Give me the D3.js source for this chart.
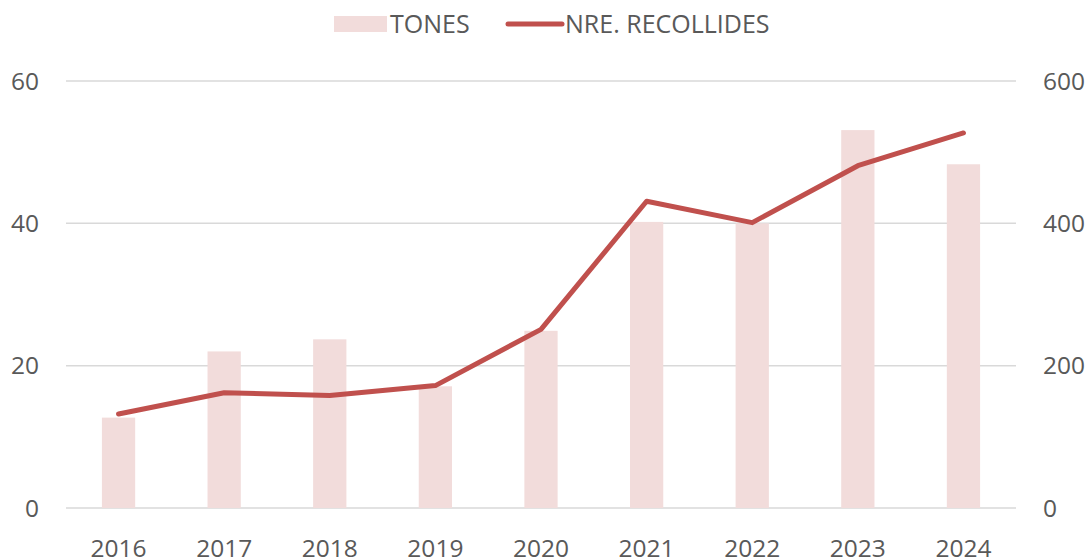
<!DOCTYPE html>
<html>
<head>
<meta charset="utf-8">
<script src="https://cdn.jsdelivr.net/npm/d3@7"></script>
<style>
  body { margin: 0; background: #fff; }
  text { font-family: "Open Sans", "Noto Sans", sans-serif; fill: #595959; }
</style>
</head>
<body>
<div id="chart"></div>
<script>
const years = ["2016", "2017", "2018", "2019", "2020", "2021", "2022", "2023", "2024"];
const tones = [12.7, 22.0, 23.7, 17.1, 24.9, 40.2, 40.0, 53.1, 48.3];
const recollides = [132, 162, 158, 172, 251, 431, 401, 481, 527];
const leftTicks = [0, 20, 40, 60];
const rightTicks = [0, 200, 400, 600];

const width = 1092, height = 559;
const margin = { top: 81, right: 76, bottom: 51, left: 66 };

const svg = d3.select("#chart").append("svg")
  .attr("width", width)
  .attr("height", height);

const x = d3.scaleBand()
  .domain(years)
  .range([margin.left, width - margin.right])
  .paddingInner(0.685)
  .paddingOuter(0.34);

const yLeft = d3.scaleLinear().domain([0, 60]).range([height - margin.bottom, margin.top]);
const yRight = d3.scaleLinear().domain([0, 600]).range([height - margin.bottom, margin.top]);

// gridlines
svg.append("g")
  .selectAll("line")
  .data(leftTicks)
  .join("line")
  .attr("x1", margin.left)
  .attr("x2", width - margin.right)
  .attr("y1", d => yLeft(d))
  .attr("y2", d => yLeft(d))
  .attr("stroke", "#d9d9d9")
  .attr("stroke-width", 1.5);

// bars
svg.append("g")
  .selectAll("rect")
  .data(tones)
  .join("rect")
  .attr("x", (d, i) => x(years[i]))
  .attr("width", x.bandwidth())
  .attr("y", d => yLeft(d))
  .attr("height", d => yLeft(0) - yLeft(d))
  .attr("fill", "#f2dcdb");

// line
const line = d3.line()
  .x((d, i) => x(years[i]) + x.bandwidth() / 2)
  .y(d => yRight(d));

svg.append("path")
  .datum(recollides)
  .attr("d", line)
  .attr("fill", "none")
  .attr("stroke", "#c0504d")
  .attr("stroke-width", 5)
  .attr("stroke-linecap", "round")
  .attr("stroke-linejoin", "round");

// left axis labels
svg.append("g")
  .attr("font-size", 24.5)
  .attr("text-anchor", "end")
  .selectAll("text")
  .data(leftTicks)
  .join("text")
  .attr("x", 39)
  .attr("y", d => yLeft(d))
  .attr("dy", "0.35em")
  .text(d => d);

// right axis labels
svg.append("g")
  .attr("font-size", 24.5)
  .attr("text-anchor", "start")
  .selectAll("text")
  .data(rightTicks)
  .join("text")
  .attr("x", 1043)
  .attr("y", d => yRight(d))
  .attr("dy", "0.35em")
  .text(d => d);

// x labels
svg.append("g")
  .attr("font-size", 24.5)
  .attr("text-anchor", "middle")
  .selectAll("text")
  .data(years)
  .join("text")
  .attr("x", d => x(d) + x.bandwidth() / 2)
  .attr("y", 557)
  .text(d => d);

// legend
const legend = svg.append("g").attr("font-size", 25);
legend.append("rect")
  .attr("x", 334).attr("y", 16)
  .attr("width", 53).attr("height", 16)
  .attr("fill", "#f2dcdb");
legend.append("text")
  .attr("x", 390).attr("y", 24).attr("dy", "0.35em")
  .text("TONES");
legend.append("line")
  .attr("x1", 508).attr("x2", 562)
  .attr("y1", 24).attr("y2", 24)
  .attr("stroke", "#c0504d")
  .attr("stroke-width", 5)
  .attr("stroke-linecap", "round");
legend.append("text")
  .attr("x", 565).attr("y", 24).attr("dy", "0.35em")
  .text("NRE. RECOLLIDES");
</script>
</body>
</html>
